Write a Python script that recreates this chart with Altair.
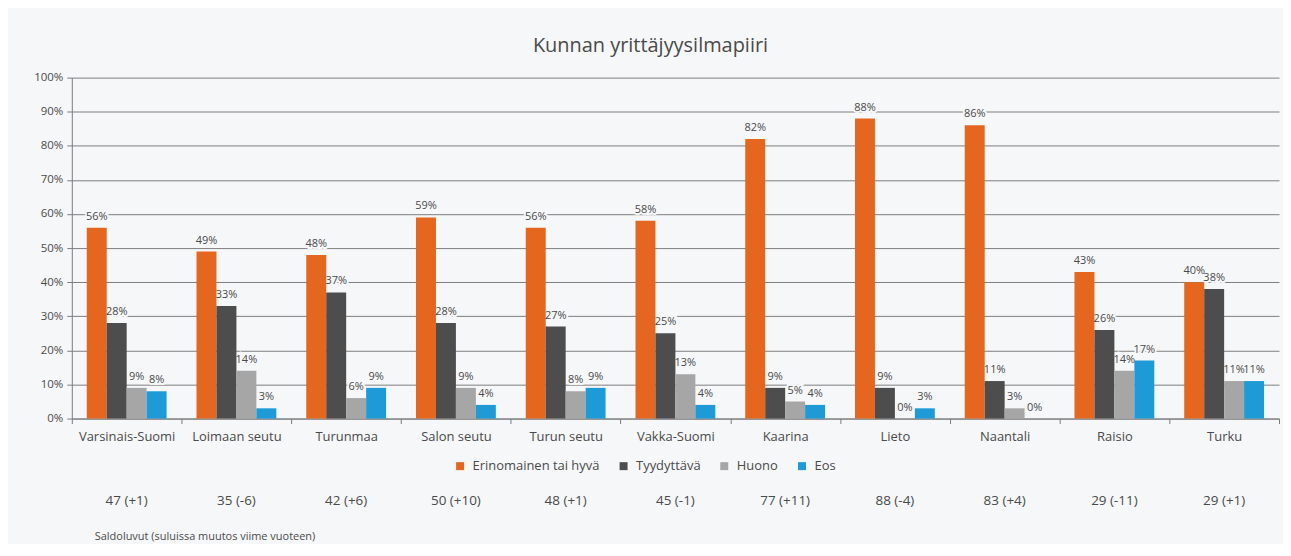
import altair as alt
import pandas as pd

categories = ["Varsinais-Suomi", "Loimaan seutu", "Turunmaa", "Salon seutu", "Turun seutu",
              "Vakka-Suomi", "Kaarina", "Lieto", "Naantali", "Raisio", "Turku"]
series = ["Erinomainen tai hyvä", "Tyydyttävä", "Huono", "Eos"]
erinomainen = [56, 49, 48, 59, 56, 58, 82, 88, 86, 43, 40]
tyydyttava = [28, 33, 37, 28, 27, 25, 9, 9, 11, 26, 38]
huono = [9, 14, 6, 9, 8, 13, 5, 0, 3, 14, 11]
eos = [8, 3, 9, 4, 9, 4, 4, 3, 0, 17, 11]
saldo = ["47 (+1)", "35 (-6)", "42 (+6)", "50 (+10)", "48 (+1)", "45 (-1)",
         "77 (+11)", "88 (-4)", "83 (+4)", "29 (-11)", "29 (+1)"]
y_ticks = [0, 0.1, 0.2, 0.3, 0.4, 0.5, 0.6, 0.7, 0.8, 0.9, 1.0]
colors = ["#e4661f", "#4d4d4d", "#a6a6a6", "#1e9ad6"]
title_text = "Kunnan yrittäjyysilmapiiri"
footnote = "Saldoluvut (suluissa muutos viime vuoteen)"

BG = "#f6f7f9"
TXT = "#4a4a4a"
FONT = "Open Sans"

rows = []
for s, vals in zip(series, [erinomainen, tyydyttava, huono, eos]):
    for c, v in zip(categories, vals):
        rows.append({"kunta": c, "sarja": s, "arvo": v / 100.0, "label": f"{v}%"})
df = pd.DataFrame(rows)
sdf = pd.DataFrame({"kunta": categories, "saldo": saldo})
fdf = pd.DataFrame({"t": [footnote]})

x_enc = alt.X("kunta:N", sort=categories, title=None,
              scale=alt.Scale(paddingInner=0, paddingOuter=0),
              axis=alt.Axis(labelAngle=0, tickBand="extent", tickSize=5, tickColor="#7a7a7a",
                            domainColor="#7a7a7a", labelFontSize=13, labelColor=TXT,
                            labelFont=FONT, labelPadding=7, grid=False))
xo_enc = alt.XOffset("sarja:N", sort=series,
                     scale=alt.Scale(domain=series, paddingOuter=0.75, paddingInner=0))
y_enc = alt.Y("arvo:Q", title=None,
              scale=alt.Scale(domain=[0, 1], nice=False),
              axis=alt.Axis(format=".0%", values=y_ticks, labelOverlap=False,
                            tickSize=5, tickColor="#7a7a7a", domainColor="#7a7a7a",
                            gridColor="#7d7d7d", gridWidth=1, labelFontSize=11.5,
                            labelColor=TXT, labelFont=FONT, labelPadding=4))

halo = alt.Chart(df).mark_text(dy=-11, fontSize=11, font=FONT, stroke=BG, strokeWidth=4,
                               color=BG).encode(
    x=x_enc, xOffset=xo_enc, y=y_enc, text="label:N")

bars = alt.Chart(df).mark_bar().encode(
    x=x_enc, xOffset=xo_enc, y=y_enc,
    color=alt.Color("sarja:N", sort=series,
                    scale=alt.Scale(domain=series, range=colors),
                    legend=alt.Legend(title=None, orient="none", direction="horizontal",
                                      legendX=383, legendY=383, symbolType="square",
                                      symbolSize=64, symbolStrokeWidth=0,
                                      labelFontSize=13, labelFont=FONT, labelColor=TXT,
                                      labelOffset=6, columnPadding=17))
)

labels = alt.Chart(df).mark_text(dy=-11, fontSize=11, font=FONT, color=TXT).encode(
    x=x_enc, xOffset=xo_enc, y=y_enc, text="label:N")

saldo_text = alt.Chart(sdf).mark_text(fontSize=13.5, font=FONT, color=TXT, baseline="middle").encode(
    x=x_enc, y=alt.value(425), text="saldo:N")

foot_text = alt.Chart(fdf).mark_text(fontSize=11, font=FONT, color=TXT, align="left",
                                     baseline="middle").encode(
    x=alt.value(23), y=alt.value(461), text="t:N")

chart = alt.layer(halo, bars, labels, saldo_text, foot_text).properties(
    width=1211, height=342,
    autosize=alt.AutoSizeParams(type="none"),
    padding={"left": 64, "top": 69, "right": 4, "bottom": 125},
    title=alt.TitleParams(title_text, fontSize=20, font=FONT, color=TXT, fontWeight="normal",
                          anchor="middle", dx=-25, offset=16),
    background=BG,
).configure_view(stroke=None)

chart.save("out.html", embed_options={"renderer": "svg", "actions": False})
